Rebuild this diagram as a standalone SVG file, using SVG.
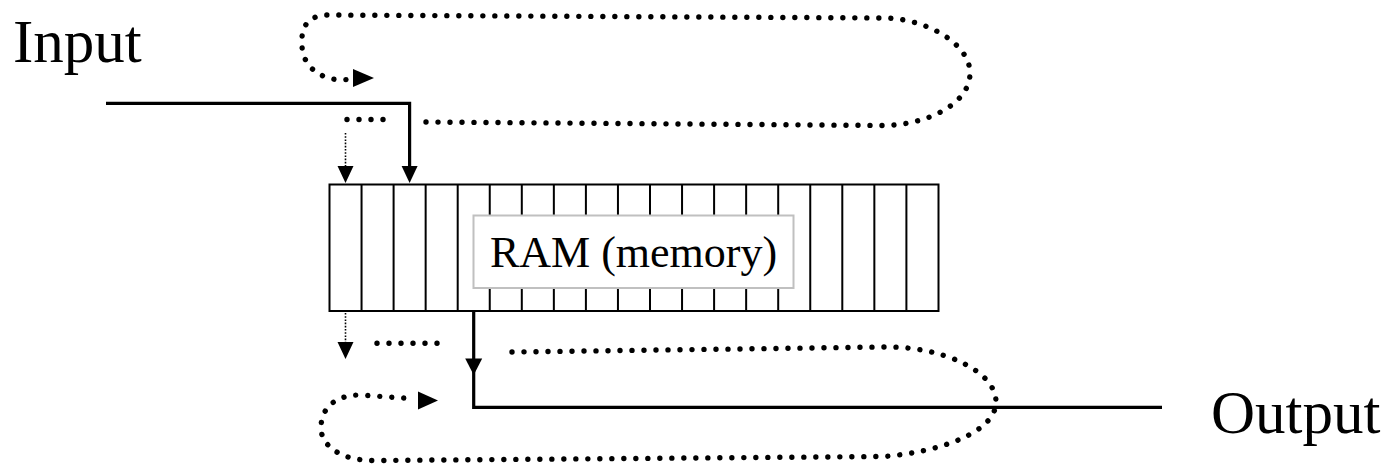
<svg xmlns="http://www.w3.org/2000/svg" width="1398" height="466" viewBox="0 0 1398 466">
<style>
.lbl{font-family:"Liberation Serif","Times New Roman",serif;fill:#000}
.big{font-size:61px}
.mid{font-size:44px}
.cell{stroke:#000;stroke-width:2;fill:none}
.solid{stroke:#000;stroke-width:3.2;fill:none;stroke-linejoin:miter}
.dots{stroke:#000;stroke-width:5.4;fill:none;stroke-dasharray:0.01 11.99;stroke-linecap:round}
.thin{stroke:#000;stroke-width:1.6;fill:none;stroke-dasharray:1.6 1.6}
.head{fill:#000;stroke:none}
</style>
<rect width="1398" height="466" fill="#fff"/>
<g id="input-label"><text class="lbl big" x="13" y="62">Input</text></g>
<g id="output-label"><text class="lbl big" x="1211" y="433">Output</text></g>
<g id="ram">
<rect class="cell" x="329.5" y="184.5" width="609" height="126.5" fill="#fff"/>
<path class="cell" d="M361.55 184.5V311M393.6 184.5V311M425.65 184.5V311M457.7 184.5V311M489.75 184.5V311M521.8 184.5V311M553.85 184.5V311M585.9 184.5V311M617.95 184.5V311M650 184.5V311M682.05 184.5V311M714.1 184.5V311M746.15 184.5V311M778.2 184.5V311M810.25 184.5V311M842.3 184.5V311M874.35 184.5V311M906.4 184.5V311"/>
<rect x="473.5" y="215.5" width="320" height="72.5" fill="#fff" stroke="#c0c0c0" stroke-width="2"/>
<text class="lbl mid" x="633.5" y="267" text-anchor="middle">RAM (memory)</text>
</g>
<g id="connectors">
<path class="solid" d="M106 103.3H409.6V167"/>
<polygon class="head" points="401.6,166 417.6,166 409.6,183"/>
<path class="thin" d="M345.5 133V167"/>
<polygon class="head" points="337.5,166 353.5,166 345.5,183"/>
<path class="dots" d="M347 119.5H384"/>
<path class="dots" d="M426 122 L884 125.5 C925 125 970 105 970 73 C970 45 930 20 887 18 L325 15 C305 17 301 30 302 45 C302 62 315 79 342 80 L352 79"/>
<polygon class="head" points="353,69 374,78 353,87"/>
<path class="solid" d="M473.7 311V407.3H1162"/>
<polygon class="head" points="465.2,358.5 482.2,358.5 473.7,375"/>
<path class="thin" d="M345.5 313V343"/>
<polygon class="head" points="337.5,342 353.5,342 345.5,359"/>
<path class="dots" d="M377 343.3H438"/>
<path class="dots" d="M512 352 L884 347 C940 346 996 370 996 402 C996 432 940 452 884 456.5 L375 460.5 C340 461 321 445 321 428 C321 408 335 395 360 395 L413 398.7"/>
<polygon class="head" points="418,391.5 438,400.5 418,409.5"/>
</g>
</svg>
